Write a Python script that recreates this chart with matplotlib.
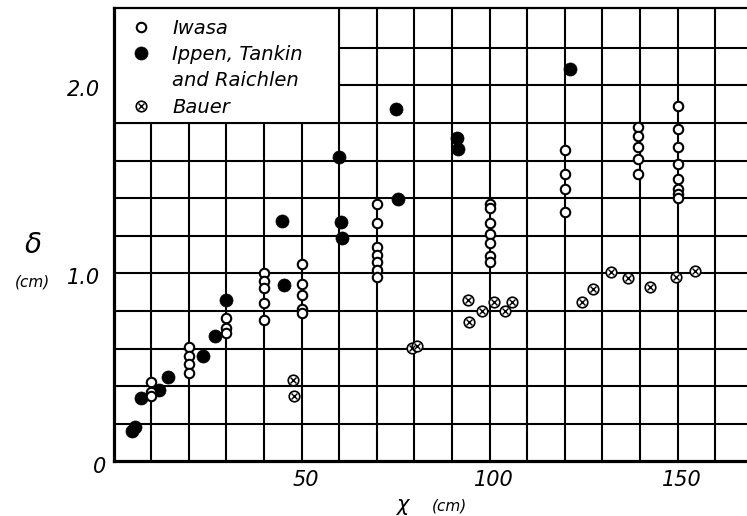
import numpy as np
import matplotlib
matplotlib.use("Agg")
import matplotlib.pyplot as plt
from matplotlib.lines import Line2D
from matplotlib.patches import Rectangle
from matplotlib.transforms import ScaledTranslation

# Iwasa: measurement columns (x in cm, delta in cm)
iwasa_x = [10, 10, 10,
           20, 20, 20, 20,
           30, 30, 30,
           40, 40, 40, 40, 40,
           50, 50, 50, 50, 50,
           70, 70, 70, 70, 70, 70, 70,
           100, 100, 100, 100, 100, 100, 100,
           120, 120, 120, 120,
           139.5, 139.5, 139.5, 139.5, 139.5,
           150, 150, 150, 150, 150, 150, 150, 150]
iwasa_y = [0.42, 0.37, 0.35,
           0.61, 0.56, 0.52, 0.47,
           0.76, 0.71, 0.68,
           1.00, 0.96, 0.92, 0.84, 0.75,
           1.05, 0.945, 0.885, 0.81, 0.79,
           1.37, 1.27, 1.14, 1.10, 1.06, 1.02, 0.98,
           1.37, 1.345, 1.27, 1.21, 1.16, 1.09, 1.06,
           1.655, 1.53, 1.45, 1.325,
           1.78, 1.73, 1.67, 1.61, 1.53,
           1.89, 1.77, 1.67, 1.58, 1.50, 1.45, 1.42, 1.40]

# Ippen, Tankin and Raichlen
ippen_x = [5.0, 5.8, 7.4, 12.2, 14.4, 23.7, 27.1, 30.0, 44.8, 45.3,
           60.0, 60.6, 60.7, 75.0, 75.6, 91.2, 91.5, 121.4]
ippen_y = [0.16, 0.18, 0.335, 0.38, 0.45, 0.56, 0.665, 0.86, 1.28, 0.94,
           1.62, 1.275, 1.19, 1.875, 1.395, 1.72, 1.66, 2.085]

# Bauer
bauer_x = [47.6, 48.1, 79.3, 80.7, 94.3, 94.4, 98.0, 101.2, 104.2, 106.0,
           124.5, 127.4, 132.4, 136.7, 142.6, 149.5, 154.7]
bauer_y = [0.43, 0.35, 0.605, 0.615, 0.86, 0.74, 0.80, 0.845, 0.80, 0.85,
           0.85, 0.915, 1.005, 0.975, 0.925, 0.98, 1.01]

x_ticks = [50, 100, 150]
x_tick_labels = ["50", "100", "150"]
y_ticks = [1.0, 2.0]
y_tick_labels = ["1.0", "2.0"]

ITAL = dict(family="DejaVu Sans", style="oblique")

fig = plt.figure(figsize=(7.47, 5.16), dpi=100)
W, H = 747, 516
x0_px, y0_px, ytop_px = 113.5, 461.3, 8.3
ax = fig.add_axes([x0_px / W, (H - y0_px) / H, 1 - x0_px / W, (y0_px - ytop_px) / H])
ax.set_xlim(0, (W - x0_px) / 3.761)
ax.set_ylim(0, (y0_px - ytop_px) / 188.0)

# grid of the graph paper
ax.set_xticks(np.arange(10, 170, 10), minor=True)
ax.set_yticks(np.arange(0.2, 2.4, 0.2), minor=True)
ax.set_xticks(x_ticks)
ax.set_xticklabels(x_tick_labels, fontsize=15, **ITAL)
ax.set_yticks(y_ticks)
ax.set_yticklabels(y_tick_labels, fontsize=15, **ITAL)
ax.grid(which="both", color="black", linewidth=1.5, zorder=1)
ax.set_axisbelow(True)
ax.tick_params(which="both", length=0)
ax.tick_params(axis="x", pad=6)
ax.tick_params(axis="y", pad=10)
for lbl in ax.get_xticklabels():
    lbl.set_transform(lbl.get_transform() + ScaledTranslation(4 / 100, 0, fig.dpi_scale_trans))
for lbl in ax.get_yticklabels():
    lbl.set_transform(lbl.get_transform() + ScaledTranslation(0, -3 / 100, fig.dpi_scale_trans))

ax.spines["right"].set_visible(False)
ax.spines["left"].set_linewidth(2.3)
ax.spines["bottom"].set_linewidth(2.3)
ax.spines["top"].set_linewidth(1.6)

# white key panel in the upper-left corner
ax.add_patch(Rectangle((0, 1.8), 60, 1.0, facecolor="white", edgecolor="black",
                       linewidth=1.5, zorder=2))

OPEN = dict(ms=6.8, mfc="white", mec="black", mew=1.5)
FILLED = dict(ms=9.4, mfc="black", mec="black", mew=0.5)
RING = dict(ms=7.6, mfc="white", mec="black", mew=1.2)
CROSS = dict(ms=4.8, mec="black", mew=1.0)

ax.plot(bauer_x, bauer_y, linestyle="none", marker="o", zorder=3, **RING)
ax.plot(bauer_x, bauer_y, linestyle="none", marker="x", zorder=4, **CROSS)
ax.plot(ippen_x, ippen_y, linestyle="none", marker="o", zorder=3, **FILLED)
ax.plot(iwasa_x, iwasa_y, linestyle="none", marker="o", zorder=5, **OPEN)

# key
h_iwasa = Line2D([], [], linestyle="none", marker="o", **OPEN)
h_ippen = Line2D([], [], linestyle="none", marker="o", **FILLED)
h_blank = Line2D([], [], linestyle="none", marker="none")
h_bauer = (Line2D([], [], linestyle="none", marker="o", **RING),
           Line2D([], [], linestyle="none", marker="x", **CROSS))
leg = ax.legend([h_iwasa, h_ippen, h_blank, h_bauer],
                ["Iwasa", "Ippen, Tankin", "and Raichlen", "Bauer"],
                loc="upper left", bbox_to_anchor=(131.3 / W, 1 - 18.5 / H),
                bbox_transform=fig.transFigure, frameon=False, borderpad=0,
                borderaxespad=0, handlelength=1.0, handletextpad=1.1,
                labelspacing=0.38, prop=dict(size=14, **ITAL))
leg.set_zorder(6)

# axis titles
fig.text(99.5 / W, 1 - 467 / H, "0", fontsize=15, ha="center", va="center", **ITAL)
fig.text(33 / W, 1 - 245 / H, "δ", fontsize=20, ha="center", va="center", **ITAL)
fig.text(32 / W, 1 - 282 / H, "(cm)", fontsize=11, ha="center", va="center", **ITAL)
fig.text(403 / W, 1 - 505 / H, "χ", fontsize=15, ha="center", va="center", **ITAL)
fig.text(449 / W, 1 - 506 / H, "(cm)", fontsize=11, ha="center", va="center", **ITAL)

fig.savefig("out.png", dpi=100)
